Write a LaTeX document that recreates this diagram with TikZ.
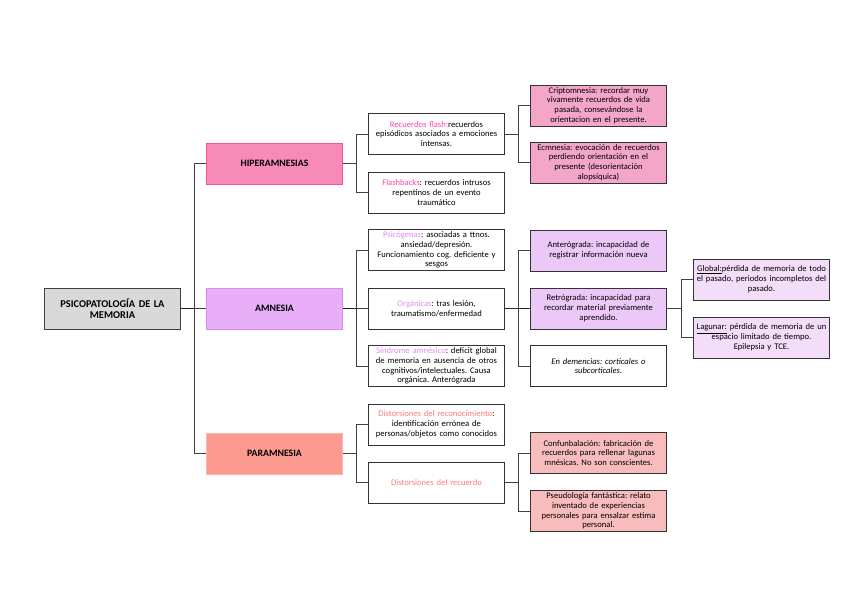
\documentclass[tikz,border=0pt]{standalone}
\usepackage{fontspec}
\setmainfont{Carlito}
\frenchspacing
\definecolor{rootgray}{HTML}{D9D9D9}
\definecolor{hiperfill}{HTML}{F78BB8}
\definecolor{hiperline}{HTML}{FF4F9A}
\definecolor{amnfill}{HTML}{E8AEF8}
\definecolor{amnline}{HTML}{D88CF0}
\definecolor{parafill}{HTML}{FD9A90}
\definecolor{paraline}{HTML}{FFB4AC}
\definecolor{hiperlight}{HTML}{F4A6C8}
\definecolor{amnlight}{HTML}{EBC8F8}
\definecolor{amnpale}{HTML}{F3DDF8}
\definecolor{paralight}{HTML}{F8BCBC}
\definecolor{pinktxt}{HTML}{FF45A0}
\definecolor{liltxt}{HTML}{E08CF2}
\definecolor{redtxt}{HTML}{FF7A7A}
\begin{document}
\begin{tikzpicture}[x=1pt,y=-1pt,
  box/.style={draw=black!80,line width=0.9pt,minimum width=135pt,minimum height=41pt,
    text width=136pt,align=center,inner sep=0pt,font=\fontsize{8.6}{9.8}\selectfont},
  head/.style={box,font=\fontsize{9.8}{11.5}\selectfont\bfseries},
  link/.style={draw=black!75,line width=0.8pt},
  stub/.style={draw=black!85,line width=1.3pt}]
\useasboundingbox (0,0) rectangle (848,599);
% root and first level
\node[head,fill=rootgray,draw=black!75,font=\fontsize{10.4}{11.5}\selectfont\bfseries] (root) at (112.5,308.5) {PSICOPATOLOGÍA DE LA\\MEMORIA};
\node[head,fill=hiperfill,draw=hiperline] (hiper) at (274.5,163.5) {HIPERAMNESIAS};
\node[head,fill=amnfill,draw=amnline] (amn) at (274.5,308.5) {AMNESIA};
\node[head,fill=parafill,draw=paraline] (para) at (274.5,453.5) {PARAMNESIA};
% second level
\node[box] (flash) at (436.5,134) {{\color{pinktxt}Recuerdos flash:}recuerdos\\episódicos asociados a emociones\\intensas.};
\node[box] (flashb) at (436.5,192.5) {{\color{pinktxt}Flashbacks}: recuerdos intrusos\\repentinos de un evento\\traumático};
\node[box] (psico) at (436.5,250) {{\color{liltxt}Psicógenas}: asociadas a ttnos.\\ansiedad/depresión.\\Funcionamiento cog. deficiente y\\sesgos};
\node[box] (organ) at (436.5,308.5) {{\color{liltxt}Orgánicas}: tras lesión,\\traumatismo/enfermedad};
\node[box] (sindr) at (436.5,366) {{\color{liltxt}Síndrome amnésico}: deficit global\\de memoria en ausencia de otros\\cognitivos/intelectuales. Causa\\orgánica. Anterógrada};
\node[box] (dreco) at (436.5,424.5) {{\color{redtxt}Distorsiones del reconocimiento}:\\identificación errónea de\\personas/objetos como conocidos};
\node[box] (drecu) at (436.5,482.5) {\color{redtxt}Distorsiones del recuerdo};
% third level
\node[box,fill=hiperlight] (cripto) at (598.5,105.5) {Criptomnesia: recordar muy\\vivamente recuerdos de vida\\pasada, consevándose la\\orientacion en el presente.};
\node[box,fill=hiperlight] (ecm) at (598.5,162.5) {Ecmnesia: evocación de recuerdos\\perdiendo orientación en el\\presente (desorientación\\alopsíquica)};
\node[box,fill=amnlight] (antero) at (598.5,250.5) {Anterógrada: incapacidad de\\registrar información nueva};
\node[box,fill=amnlight] (retro) at (598.5,308.5) {Retrógrada: incapacidad para\\recordar material previamente\\aprendido.};
\node[box] (demen) at (598.5,366) {\itshape En demencias: corticales o\\subcorticales.};
\node[box,fill=paralight] (confab) at (598.5,453) {Confunbalación: fabricación de\\recuerdos para rellenar lagunas\\mnésicas. No son conscientes.};
\node[box,fill=paralight] (pseudo) at (598.5,511) {Pseudología fantástica: relato\\inventado de experiencias\\personales para ensalzar estima\\personal.};
% fourth level
\node[box,fill=amnpale] (global) at (761.5,279.5) {\underline{Global:}pérdida de memoria de todo\\el pasado, periodos incompletos del\\pasado.};
\node[box,fill=amnpale] (lagunar) at (761.5,337.5) {\underline{Lagunar:} pérdida de memoria de un\\espacio limitado de tiempo.\\Epilepsia y TCE.};
% connectors
\draw[stub] (root.east) -- ++(13,0) coordinate (t0);
\draw[link] (hiper.west) -| (t0) |- (para.west);
\draw[link] (t0) -- (amn.west);
\draw[link] (hiper.east) -- ++(13,0) coordinate (t1);
\draw[link] (flash.west) -| (t1) |- (flashb.west);
\draw[stub] (amn.east) -- ++(13,0) coordinate (t2);
\draw[link] (psico.west) -| (t2) |- (sindr.west);
\draw[link] (t2) -- (organ.west);
\draw[link] (para.east) -- ++(13,0) coordinate (t3);
\draw[link] (dreco.west) -| (t3) |- (drecu.west);
\draw[link] (flash.east) -- ++(13,0) coordinate (t4);
\draw[link] (cripto.west) -| (t4) |- (ecm.west);
\draw[stub] (organ.east) -- ++(13,0) coordinate (t5);
\draw[link] (antero.west) -| (t5) |- (demen.west);
\draw[stub] (t5) -- (retro.west);
\draw[link] (drecu.east) -- ++(13,0) coordinate (t6);
\draw[link] (confab.west) -| (t6) |- (pseudo.west);
\draw[link] (retro.east) -- ++(14,0) coordinate (t7);
\draw[link] (global.west) -| (t7) |- (lagunar.west);
\end{tikzpicture}
\end{document}
